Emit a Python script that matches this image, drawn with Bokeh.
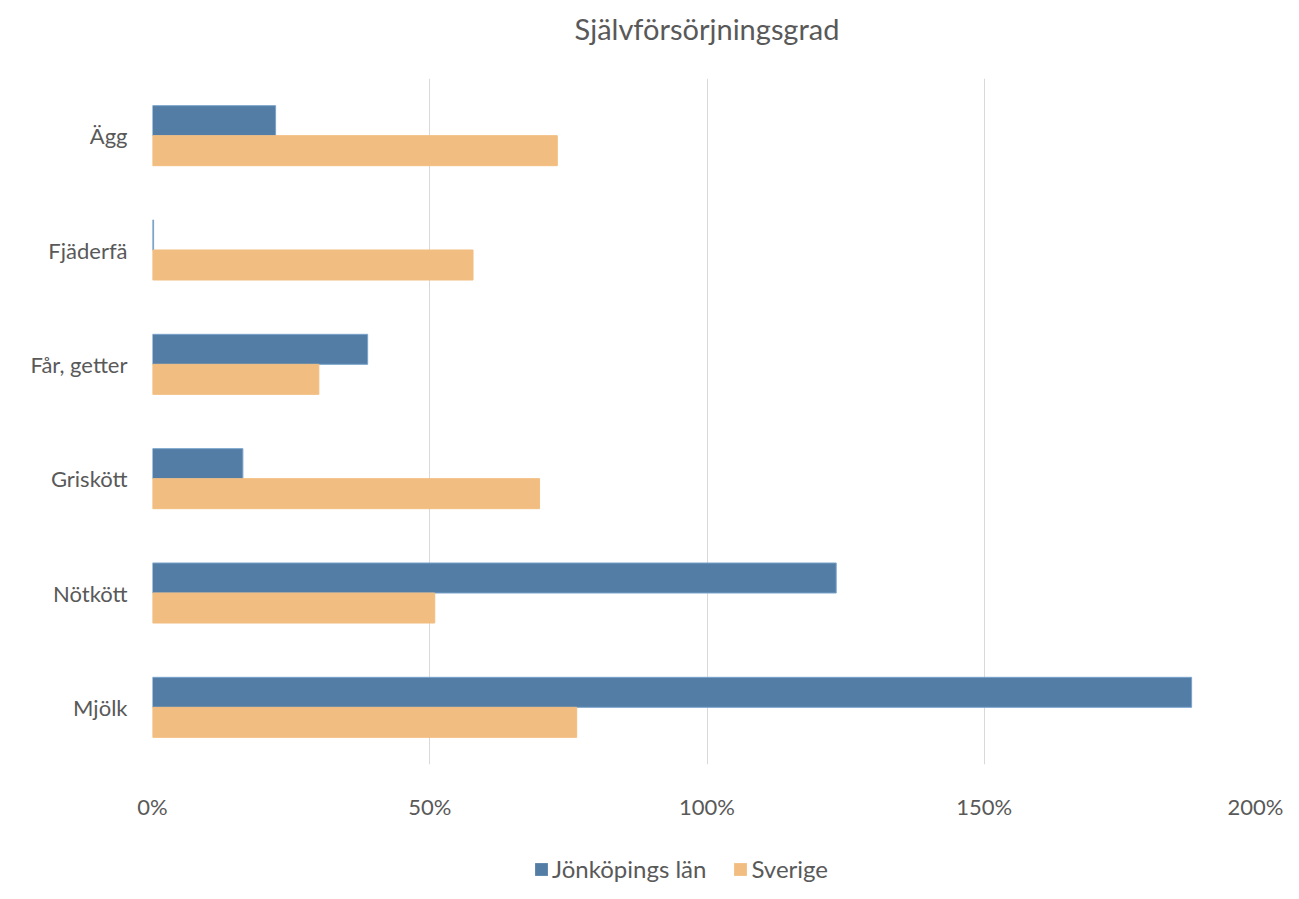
from bokeh.plotting import figure
from bokeh.layouts import column
from bokeh.models import Range1d, FactorRange, FixedTicker, NumeralTickFormatter, Legend, LegendItem, ColumnDataSource
from bokeh.transform import dodge
from bokeh.embed import file_html
from bokeh.resources import INLINE

categories = ["Ägg", "Fjäderfä", "Får, getter", "Griskött", "Nötkött", "Mjölk"]
jonkoping = [0.222, 0.002, 0.388, 0.163, 1.233, 1.874]
sverige = [0.730, 0.578, 0.300, 0.698, 0.509, 0.765]
series_names = ["Jönköpings län", "Sverige"]
x_ticks = [0, 0.5, 1.0, 1.5, 2.0]
title_text = "Självförsörjningsgrad"

BLUE = "#537DA4"
BLUE_EDGE = "#7aa3cc"
ORANGE = "#F2BD80"
GREY = "#595959"
FONT = "Lato"
W = 1283

src = ColumnDataSource(dict(cat=categories, j=jonkoping, s=sverige))

# ---- title strip ----
pt = figure(width=W, height=60, output_backend="svg", toolbar_location=None,
            x_axis_type=None, y_axis_type=None, x_range=Range1d(0, 1), y_range=Range1d(0, 1),
            min_border_left=117, min_border_right=0, min_border_top=0, min_border_bottom=0)
pt.title.text = title_text
pt.title.align = "center"
pt.title.text_font = FONT
pt.title.text_font_size = "29px"
pt.title.text_font_style = "normal"
pt.title.text_color = GREY
pt.title.standoff = 16
pt.outline_line_color = None
pt.grid.visible = False

# ---- main chart ----
p = figure(width=W, height=770, output_backend="svg", toolbar_location=None,
           y_range=FactorRange(factors=list(reversed(categories))),
           x_range=Range1d(0, 2.0),
           min_border_left=152, min_border_right=22, min_border_top=18, min_border_bottom=66)

bh = 0.2625
rj = p.hbar(y=dodge("cat", bh / 2, range=p.y_range), right="j", left=0, height=bh, source=src,
            fill_color=BLUE, line_color=BLUE_EDGE, line_width=1)
rs = p.hbar(y=dodge("cat", -bh / 2, range=p.y_range), right="s", left=0, height=bh, source=src,
            fill_color=ORANGE, line_color=ORANGE, line_width=1)

p.xaxis.ticker = FixedTicker(ticks=x_ticks)
p.xaxis.formatter = NumeralTickFormatter(format="0%")
for ax in (p.xaxis, p.yaxis):
    ax.axis_line_color = None
    ax.major_tick_line_color = None
    ax.minor_tick_line_color = None
    ax.major_label_text_font = FONT
    ax.major_label_text_color = GREY
p.xaxis.major_label_text_font_size = "22px"
p.yaxis.major_label_text_font_size = "22px"
p.xaxis.major_label_standoff = 22
p.yaxis.major_label_standoff = 19

p.ygrid.grid_line_color = None
p.xgrid.grid_line_color = "#d9d9d9"
p.xgrid.grid_line_width = 1
p.outline_line_color = None

# ---- legend strip: zero-height bars outside the visible range; only the legend shows ----
pl = figure(width=W, height=53, output_backend="svg", toolbar_location=None,
            x_axis_type=None, y_axis_type=None, x_range=Range1d(5, 6),
            y_range=FactorRange(factors=categories),
            min_border_left=0, min_border_right=0, min_border_top=0, min_border_bottom=0)
pl.outline_line_color = None
pl.grid.visible = False
lj = pl.hbar(y="cat", right="j", left=0, height=0, source=src, fill_color=BLUE, line_color=None)
ls = pl.hbar(y="cat", right="s", left=0, height=0, source=src, fill_color=ORANGE, line_color=None)
legend = Legend(items=[LegendItem(label=series_names[0], renderers=[lj]),
                       LegendItem(label=series_names[1], renderers=[ls])],
                orientation="horizontal", location=(381, 0),
                glyph_width=16, glyph_height=16, label_standoff=3, spacing=26,
                padding=0, margin=0, border_line_color=None, background_fill_alpha=0,
                label_text_font=FONT, label_text_font_size="24px", label_text_color=GREY)
pl.add_layout(legend, "center")

layout = column(pt, p, pl, spacing=0)
open("out.html", "w").write(file_html(layout, INLINE))
